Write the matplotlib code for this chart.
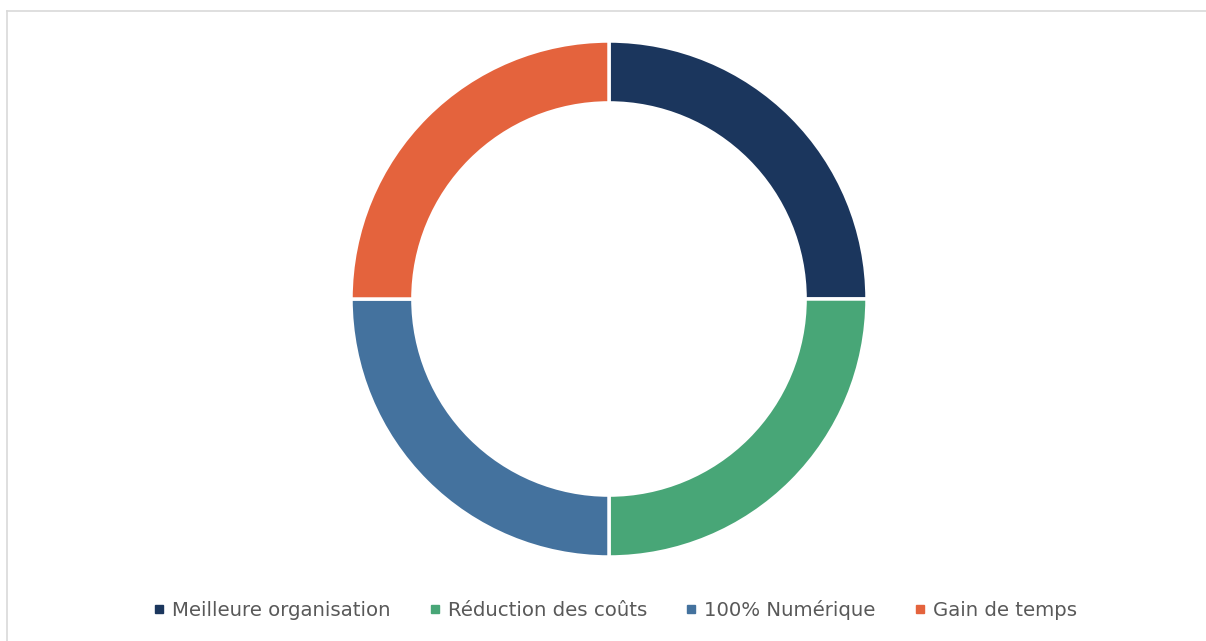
import matplotlib.pyplot as plt
from matplotlib.lines import Line2D

categories = ["Meilleure organisation", "Réduction des coûts", "100% Numérique", "Gain de temps"]
values = [25, 25, 25, 25]
colors = ["#1B365D", "#48A677", "#44729E", "#E4633D"]

W, H = 1206, 641
fig = plt.figure(figsize=(W / 100, H / 100), dpi=100)
fig.patch.set_facecolor("white")

# donut centre and radius in pixels
cx, cy, r = 609, 299, 258
ax = fig.add_axes([(cx - r) / W, 1 - (cy + r) / H, 2 * r / W, 2 * r / H])
ax.pie(
    values,
    colors=colors,
    startangle=90,
    counterclock=False,
    radius=1,
    wedgeprops=dict(width=0.24, edgecolor="white", linewidth=2.5),
)
ax.set_xlim(-1.0, 1.0)
ax.set_ylim(-1.0, 1.0)
ax.axis("off")

# chart area border (top and left visible)
fig.add_artist(Line2D([6.5 / W, 1], [1 - 10.5 / H, 1 - 10.5 / H], color="#D9D9D9", lw=1.2))
fig.add_artist(Line2D([6.5 / W, 6.5 / W], [0, 1 - 10.5 / H], color="#D9D9D9", lw=1.2))

handles = [
    Line2D([], [], marker="s", linestyle="none", markersize=6, color=c)
    for c in colors
]
fig.legend(
    handles,
    categories,
    loc="center",
    bbox_to_anchor=(614 / W, 1 - 610 / H),
    ncol=4,
    frameon=False,
    fontsize=14.2,
    labelcolor="#595959",
    handletextpad=0.25,
    columnspacing=1.85,
    handlelength=0.8,
)

fig.savefig("out.png", dpi=100, facecolor="white")
